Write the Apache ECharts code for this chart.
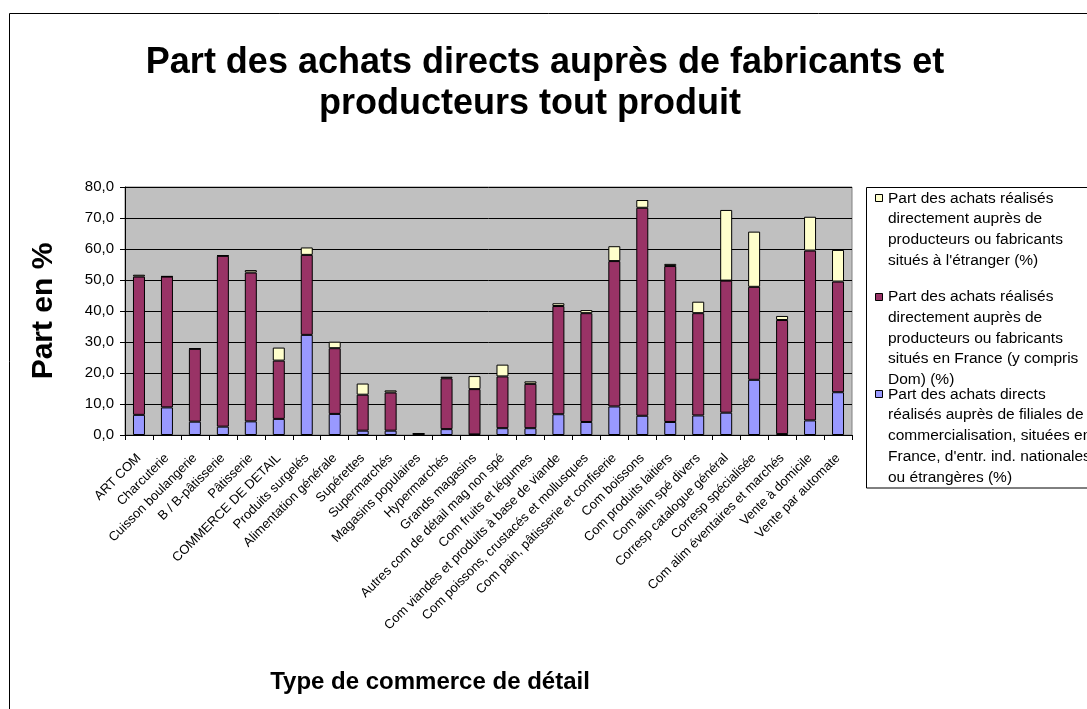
<!DOCTYPE html>
<html>
<head>
<meta charset="utf-8">
<script src="https://cdn.jsdelivr.net/npm/echarts@6/dist/echarts.min.js"></script>
<style>
html,body{margin:0;padding:0;background:#fff;}
#chart{width:1087px;height:709px;}
</style>
</head>
<body>
<div id="chart"></div>
<script>
const categories = ['ART COM','Charcuterie','Cuisson boulangerie','B / B-pâtisserie','Pâtisserie','COMMERCE DE DETAIL','Produits surgelés','Alimentation générale','Supérettes','Supermarchés','Magasins populaires','Hypermarchés','Grands magasins','Autres com de détail mag non spé','Com fruits et légumes','Com viandes et produits à base de viande','Com poissons, crustacés et mollusques','Com pain, pâtisserie et confiserie','Com boissons','Com produits laitiers','Com alim spé divers','Corresp catalogue général','Corresp spécialisée','Com alim éventaires et marchés','Vente à domicile','Vente par automate'];

const filiales = [6.5, 8.9, 4.3, 2.7, 4.4, 5.2, 32.3, 6.8, 1.4, 1.4, 0.1, 1.9, 0.2, 2.2, 2.2, 6.7, 4.2, 9.2, 6.2, 4.2, 6.3, 7.2, 17.8, 0.3, 4.7, 13.8];
const france = [44.6, 42.2, 23.5, 55.1, 48.0, 18.8, 25.8, 21.2, 11.6, 12.3, 0.3, 16.4, 14.6, 16.7, 14.3, 34.9, 35.1, 46.9, 67.1, 50.3, 33.0, 42.6, 30.0, 36.8, 54.8, 35.7];
const etranger = [0.6, 0.1, 0.1, 0.1, 0.8, 4.2, 2.4, 2.1, 3.6, 0.7, 0.1, 0.5, 4.2, 3.8, 0.8, 0.9, 1.0, 4.8, 2.5, 0.7, 3.7, 22.8, 17.8, 1.3, 10.9, 10.2];

const nameEtranger = "Part des achats réalisés\ndirectement auprès de\nproducteurs ou fabricants\nsitués à l'étranger (%)";
const nameFrance = "Part des achats réalisés\ndirectement auprès de\nproducteurs ou fabricants\nsitués en France (y compris\nDom) (%)";
const nameFiliales = "Part des achats directs\nréalisés auprès de filiales de\ncommercialisation, situées en\nFrance, d'entr. ind. nationales\nou étrangères (%)";

const colFiliales = '#9999FF', colFrance = '#993366', colEtranger = '#FFFFCC';

const FONT = "'Liberation Sans', Arial, sans-serif";
const LH = 20.8;

function legendItem(name, color, firstLineY) {
  return {
    type: 'group', silent: true,
    children: [
      { type: 'rect', shape: { x: 875.5, y: Math.round(firstLineY - 4) + 0.5, width: 7, height: 7 },
        style: { fill: color, stroke: '#000', lineWidth: 1 } },
      { type: 'text', x: 888, y: firstLineY - LH / 2,
        style: { text: name, font: '15.5px ' + FONT, fill: '#000', lineHeight: LH, verticalAlign: 'top', align: 'left' } }
    ]
  };
}

const chart = echarts.init(document.getElementById('chart'), null, { renderer: 'canvas' });

const barCommon = {
  type: 'bar',
  stack: 'total',
  barWidth: 12,
  emphasis: { disabled: true }
};

const titleStyle = { fontFamily: FONT, fontSize: 36, fontWeight: 'bold', color: '#000', lineHeight: 41.5 };

chart.setOption({
  animation: false,
  backgroundColor: '#fff',
  textStyle: { fontFamily: FONT },
  title: [
    { text: 'Part des achats directs auprès de fabricants et', left: 545, top: 42, padding: 0, textAlign: 'center', textStyle: titleStyle },
    { text: 'producteurs tout produit', left: 530, top: 83.5, padding: 0, textAlign: 'center', textStyle: titleStyle }
  ],
  legend: { show: false },
  grid: {
    left: 125, top: 187, width: 727, height: 248,
    show: true, backgroundColor: '#C0C0C0', borderColor: '#808080', borderWidth: 1
  },
  xAxis: {
    type: 'category',
    data: categories,
    name: 'Type de commerce de détail',
    nameLocation: 'middle',
    nameGap: 235,
    nameTextStyle: { fontFamily: FONT, fontSize: 24, fontWeight: 'bold', color: '#000', padding: [0, 117, 0, 0] },
    axisLine: { show: true, lineStyle: { color: '#000', width: 1 } },
    axisTick: { show: true, length: 5, lineStyle: { color: '#000' } },
    axisLabel: { interval: 0, rotate: 45, fontSize: 13, color: '#000', fontFamily: FONT, margin: 21 },
    splitLine: { show: false }
  },
  yAxis: {
    type: 'value',
    min: 0, max: 80, interval: 10,
    name: 'Part en %',
    nameLocation: 'middle',
    nameGap: 66,
    nameTextStyle: { fontFamily: FONT, fontSize: 30, fontWeight: 'bold', color: '#000' },
    axisLine: { show: true, lineStyle: { color: '#000', width: 1 } },
    axisTick: { show: true, length: 5, lineStyle: { color: '#000' } },
    axisLabel: {
      fontSize: 15, color: '#000', fontFamily: FONT, margin: 11,
      formatter: v => v.toFixed(1).replace('.', ',')
    },
    splitLine: { show: true, lineStyle: { color: '#000', width: 1 } }
  },
  series: [
    Object.assign({}, barCommon, { name: nameFiliales, data: filiales, itemStyle: { color: colFiliales, borderColor: '#000', borderWidth: 1 } }),
    Object.assign({}, barCommon, { name: nameFrance, data: france, itemStyle: { color: colFrance, borderColor: '#000', borderWidth: 1 } }),
    Object.assign({}, barCommon, { name: nameEtranger, data: etranger, itemStyle: { color: colEtranger, borderColor: '#000', borderWidth: 1 } })
  ],
  graphic: [
    { type: 'rect', silent: true, z: -10, shape: { x: 9.5, y: 13.5, width: 1100, height: 720 }, style: { fill: 'none', stroke: '#000', lineWidth: 1 } },
    { type: 'rect', silent: true, shape: { x: 866.5, y: 187.5, width: 240, height: 300.5 }, style: { fill: '#fff', stroke: '#000', lineWidth: 1 }, z: -1 },
    legendItem(nameEtranger, colEtranger, 198.3),
    legendItem(nameFrance, colFrance, 296.7),
    legendItem(nameFiliales, colFiliales, 394.3)
  ]
});
</script>
</body>
</html>
